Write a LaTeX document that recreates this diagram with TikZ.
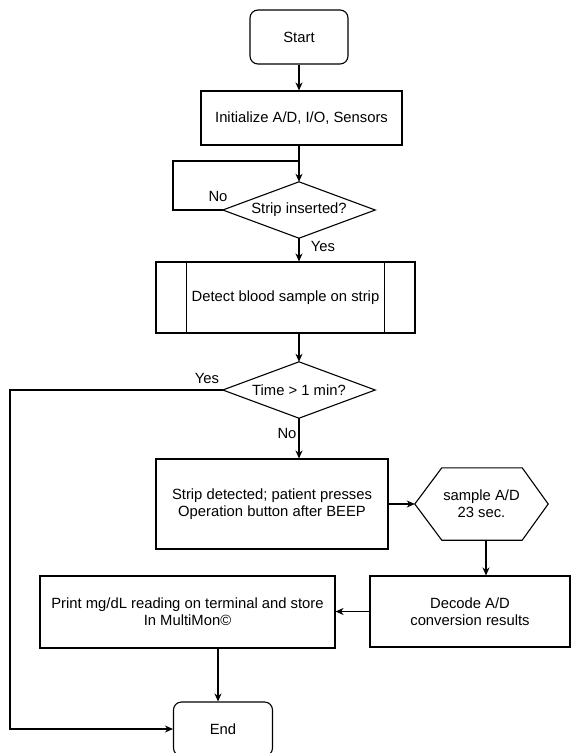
\documentclass[tikz,border=0pt]{standalone}
\usepackage{fontspec}
\setmainfont{Liberation Sans}
\usetikzlibrary{shapes.geometric,arrows.meta}
\tikzset{
  txt/.style={inner sep=0pt, align=center, font=\fontsize{14.8}{17.3}\selectfont},
  base/.style={txt, draw, line width=1.1pt},
  term/.style={base, rounded corners=8pt},
  proc/.style={base, rectangle},
  decbox/.style={txt, rectangle, minimum width=152pt, minimum height=56pt},
  lbl/.style={inner sep=0pt, font=\fontsize{14.8}{17.3}\selectfont},
  conn/.style={line width=1.1pt},
  arr/.style={conn, -{Stealth[length=8pt,width=7pt,inset=2.5pt]}},
}
\begin{document}
\begin{tikzpicture}[x=1pt,y=-1pt]
\useasboundingbox (0,0) rectangle (571,753);
\node[term, minimum width=98pt, minimum height=54pt] (start) at (299,37) {Start};
\node[proc, minimum width=201pt, minimum height=54pt] (init) at (301.5,118) {Initialize A/D, I/O, Sensors};
\node[decbox] (d1) at (299,210) {Strip inserted?};
\draw[conn] (d1.west) -- (d1.north) -- (d1.east) -- (d1.south) -- cycle;
\node[proc, minimum width=259pt, minimum height=71pt] (detect) at (285.5,297.5) {Detect blood sample on strip};
\draw[conn] ([xshift=31pt]detect.north west) -- ([xshift=31pt]detect.south west);
\draw[conn] ([xshift=-31pt]detect.north east) -- ([xshift=-31pt]detect.south east);
\node[decbox] (d2) at (299,390) {Time > 1 min?};
\draw[conn] (d2.west) -- (d2.north) -- (d2.east) -- (d2.south) -- cycle;
\node[proc, minimum width=232pt, minimum height=90pt] (strip) at (272,504) {Strip detected; patient presses\\Operation button after BEEP};
\node[txt, rectangle, minimum width=133pt, minimum height=72pt] (hex) at (481.5,504) {sample A/D\\23 sec.};
\draw[conn] (hex.west) -- ([xshift=27pt]hex.north west) -- ([xshift=-26pt]hex.north east) -- (hex.east) -- ([xshift=-26pt]hex.south east) -- ([xshift=27pt]hex.south west) -- cycle;
\node[proc, minimum width=200pt, minimum height=71pt] (decode) at (470,611.5) {Decode A/D\\conversion results};
\node[proc, minimum width=295pt, minimum height=72pt] (print) at (187.5,612) {Print mg/dL reading on terminal and store\\In MultiMon©};
\node[term, minimum width=99pt, minimum height=54pt] (end) at (223,729) {End};

\coordinate (l1) at (173,161);
\coordinate (l2) at (10,0);
\coordinate (c3) at (486,0);
\coordinate (c4) at (218,0);

\draw[arr] (start.south) -- (start.south |- init.north);
\draw[arr] (d1.north |- init.south) -- (d1.north);
\draw[conn] (d1.west) -| (l1) -- (l1 -| d1.north);
\draw[arr] (d1.south) -- (d1.south |- detect.north);
\draw[arr] (d2.north |- detect.south) -- (d2.north);
\draw[arr] (d2.west) -| (l2 |- end.west) -- (end.west);
\draw[arr] (d2.south) -- (d2.south |- strip.north);
\draw[arr] (strip.east) -- (hex.west);
\draw[arr] (c3 |- hex.south) -- (c3 |- decode.north);
\draw[arr] (decode.west) -- (decode.west -| print.east);
\draw[arr] (c4 |- print.south) -- (c4 |- end.north);

\node[lbl] (no1) at (218,196) {No};
\node[lbl] (yes1) at (323,246) {Yes};
\node[lbl] (yes2) at (207,378) {Yes};
\node[lbl] (no2) at (287,433) {No};
\end{tikzpicture}
\end{document}
